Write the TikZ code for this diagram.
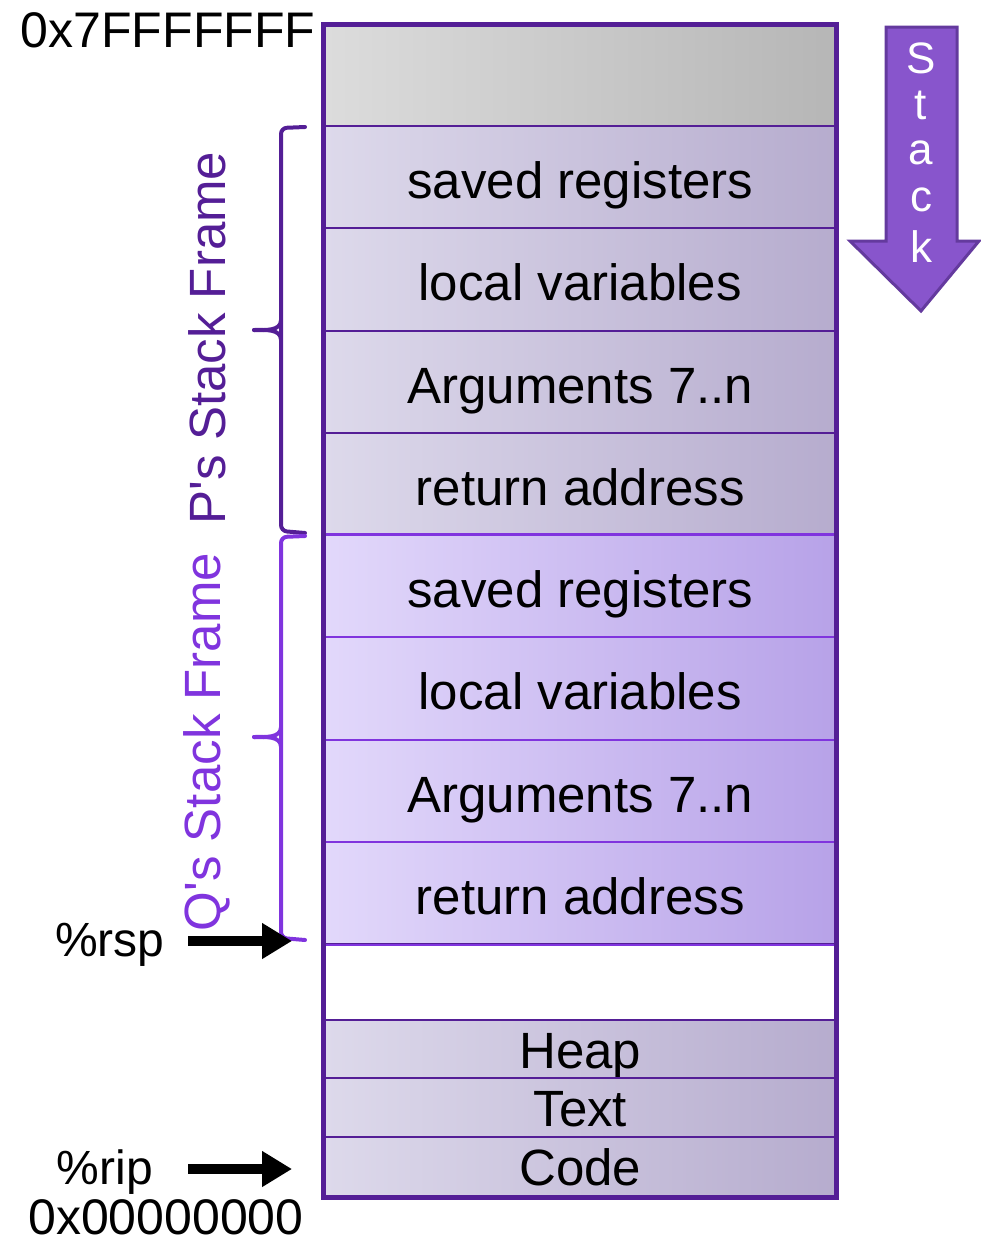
\documentclass[tikz,border=0pt]{standalone}
\usepackage{fontspec}
\setmainfont{Liberation Sans}
\usetikzlibrary{arrows.meta}
\definecolor{dpurple}{RGB}{84,30,150}
\definecolor{bpurple}{RGB}{128,52,222}
\definecolor{arrfill}{RGB}{136,85,204}
\definecolor{arrline}{RGB}{100,58,158}
\begin{document}
\begin{tikzpicture}[x=1pt,y=-1pt,
  cell/.style={minimum width=511pt, inner sep=0pt, font=\fontsize{51}{60}\selectfont, text height=46pt, text depth=4pt},
  small/.style={text height=44pt, text depth=6pt},
  pcell/.style={cell, draw=dpurple, line width=2pt, left color={rgb,255:red,221;green,217;blue,235}, right color={rgb,255:red,182;green,172;blue,206}},
  qcell/.style={cell, draw=bpurple, line width=2pt, left color={rgb,255:red,226;green,216;blue,251}, right color={rgb,255:red,183;green,162;blue,232}},
  gcell/.style={cell, draw=dpurple, line width=2pt, left color={rgb,255:red,220;green,220;blue,220}, right color={rgb,255:red,182;green,182;blue,182}},
  wcell/.style={cell, draw=dpurple, line width=2pt, fill=white},
  lbl/.style={font=\fontsize{48}{58}\selectfont, inner sep=0pt},
  addr/.style={font=\fontsize{50}{60}\selectfont, inner sep=0pt},
  frame/.style={font=\fontsize{51}{60}\selectfont, inner sep=0pt, rotate=90},
  ptr/.style={line width=10pt, -{Triangle[length=30pt,width=34pt]}},
  brace/.style={line width=4pt, rounded corners=6pt, line cap=round}
]
\useasboundingbox (0,0) rectangle (981,1242);

% cells
\node[gcell, minimum height=101pt] (top) at (580.25,75.5) {};
\node[pcell, minimum height=102pt] (p1) at (580.25,177) {saved registers};
\node[pcell, minimum height=103pt] (p2) at (580.25,279.5) {local variables};
\node[pcell, minimum height=102pt] (p3) at (580.25,382) {Arguments 7..n};
\node[pcell, minimum height=102pt] (p4) at (580.25,484) {return address};
\node[qcell, minimum height=102pt] (q1) at (580.25,586) {saved registers};
\node[qcell, minimum height=103pt] (q2) at (580.25,688.5) {local variables};
\node[qcell, minimum height=102pt] (q3) at (580.25,791) {Arguments 7..n};
\node[qcell, minimum height=102pt] (q4) at (580.25,893) {return address};
\node[wcell, minimum height=76pt] (free) at (580.25,982) {};
\node[pcell, small, minimum height=58pt] (heap) at (580.25,1049) {Heap};
\node[pcell, small, minimum height=59pt] (text) at (580.25,1107.5) {Text};
\node[pcell, small, minimum height=59pt] (code) at (580.25,1166.5) {Code};
\draw[bpurple, line width=2pt] (q1.north west) -- (q1.north east);
\draw[bpurple, line width=2pt] (q4.south west) -- (q4.south east);

% outer frame
\draw[dpurple, line width=5pt] (top.north west) rectangle (code.south east);

% address labels
\node[addr] (hi) at (168,30) {0x7FFFFFFF};
\node[addr] (lo) at (166,1217) {0x00000000};

% stack arrow
\path[fill=arrfill, draw=arrline, line width=3pt, line join=miter]
  (886,27) -- (957,27) -- (957,241) -- (979,241) -- (921,311) -- (850,241) -- (886,241) -- cycle;
\foreach \ch/\yy in {S/58,t/105,a/153,c/200,k/247}
  \node[font=\fontsize{44}{50}\selectfont, text=white, inner sep=0pt] (st\ch) at (921,\yy) {\ch};

% braces
\coordinate (pt) at (305,127);
\coordinate (pb) at (305,533);
\coordinate (pm) at (254,330);
\draw[brace, dpurple] (pt) -- (281,128) -- (281,531) -- (pb);
\draw[line width=4pt, dpurple, line cap=round] (pm) to[out=0,in=-90] (281,320);
\draw[line width=4pt, dpurple, line cap=round] (pm) to[out=0,in=90] (281,340);

\coordinate (qt) at (305,536);
\coordinate (qb) at (305,940);
\coordinate (qm) at (254,737);
\draw[brace, bpurple] (qt) -- (281,537) -- (281,938) -- (qb);
\draw[line width=4pt, bpurple, line cap=round] (qm) to[out=0,in=-90] (281,727);
\draw[line width=4pt, bpurple, line cap=round] (qm) to[out=0,in=90] (281,747);

\node[frame, text=dpurple] (pf) at (207,338) {P\textquotesingle s Stack Frame};
\node[frame, text=bpurple] (qf) at (207,742) {Q\textquotesingle s Stack Frame};

% pointers
\node[lbl] (rsp) at (110,945) {\%rsp};
\node[lbl] (rip) at (105,1172) {\%rip};
\coordinate (rspend) at (292,941);
\coordinate (ripend) at (292,1169);
\draw[ptr] (188,941) -- (rspend);
\draw[ptr] (188,1169) -- (ripend);
\end{tikzpicture}
\end{document}
